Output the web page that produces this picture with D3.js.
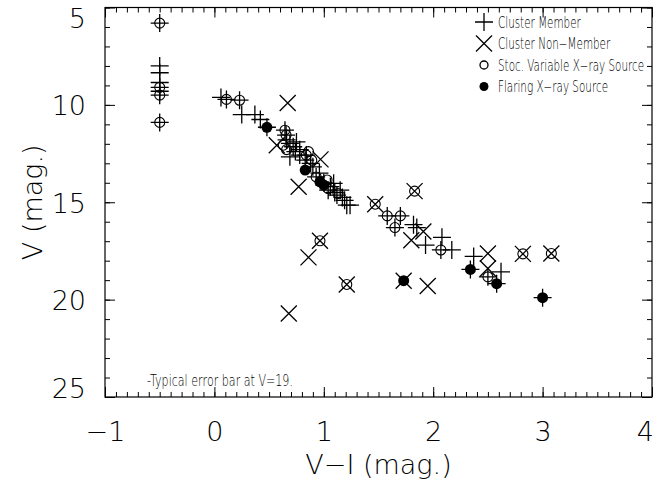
<!DOCTYPE html>
<html>
<head>
<meta charset="utf-8">
<script src="https://cdn.jsdelivr.net/npm/d3@7"></script>
<style>
body { margin: 0; background: #fff; }
svg { display: block; }
text { font-family: "DejaVu Sans", sans-serif; font-weight: 200; fill: #000; }
</style>
</head>
<body>
<div id="cmd"></div>
<script>
// V-I colour (x) and V magnitude (y) for each group of stars
var member = [
  [-0.5, 5.8], [-0.5, 8.0], [-0.5, 8.35], [-0.5, 8.85], [-0.5, 9.1], [-0.5, 9.3], [-0.5, 9.5], [-0.5, 10.9],
  [0.06, 9.62], [0.11, 9.72], [0.23, 9.76], [0.25, 10.5], [0.37, 10.5], [0.42, 10.75], [0.48, 11.15],
  [0.645, 11.3], [0.655, 11.55], [0.66, 11.8], [0.69, 11.98], [0.72, 12.15], [0.75, 11.9], [0.74, 12.4],
  [0.78, 12.58], [0.84, 12.58], [0.69, 12.67], [0.83, 12.84], [0.78, 12.3], [0.90, 13.18], [0.93, 13.7],
  [0.88, 13.0], [0.96, 13.5], [1.09, 14.03], [1.04, 14.38], [1.15, 14.38], [1.12, 14.63], [1.19, 14.9],
  [1.24, 15.15], [1.0, 14.0], [1.06, 14.2], [1.17, 14.75], [1.10, 14.5],
  [1.21, 15.15], [1.58, 15.7], [1.70, 15.7], [1.65, 16.3], [1.82, 16.15], [1.85, 16.3], [1.93, 17.2],
  [2.08, 16.8], [2.07, 17.45], [2.17, 17.45], [2.37, 17.78], [2.62, 18.57], [2.50, 18.83],
  [2.34, 18.45], [2.58, 19.18], [3.0, 19.9]
];
var nonMember = [
  [0.67, 9.9], [0.57, 12.07], [0.97, 12.8], [0.77, 14.2], [1.83, 14.43], [1.47, 15.1], [1.91, 16.5],
  [1.80, 16.95], [2.50, 17.63], [2.50, 18.4], [2.82, 17.65], [3.08, 17.63], [0.965, 16.98],
  [0.86, 17.83], [1.21, 19.22], [1.73, 19.03], [1.95, 19.3], [0.68, 20.71]
];
var stocVariable = [
  [-0.5, 5.8], [-0.5, 9.1], [-0.5, 9.5], [-0.5, 10.9], [0.11, 9.72], [0.23, 9.76],
  [0.645, 11.3], [0.655, 11.55], [0.63, 12.07], [0.66, 12.3], [0.84, 12.58], [0.86, 12.4], [0.89, 12.84],
  [0.93, 13.7], [1.03, 13.86], [1.04, 14.3], [1.13, 14.55],
  [1.83, 14.43], [1.47, 15.1], [1.58, 15.7], [1.70, 15.7], [1.65, 16.3], [2.07, 17.45], [2.50, 18.83],
  [2.82, 17.65], [3.08, 17.63], [0.965, 16.98], [1.21, 19.22]
];
var flaring = [
  [0.48, 11.15], [0.83, 13.35], [0.965, 13.95], [1.0, 14.12], [1.73, 19.03], [2.34, 18.45],
  [2.58, 19.18], [3.0, 19.9]
];
var xTicks = [-1, 0, 1, 2, 3, 4];
var yTicks = [5, 10, 15, 20, 25];
var legendLabels = ["Cluster Member", "Cluster Non\u2212Member", "Stoc. Variable X\u2212ray Source", "Flaring X\u2212ray Source"];

var W = 657, H = 483;
var margin = {top: 7.5, left: 105, right: 5, bottom: 86};
var w = W - margin.left - margin.right,
    h = H - margin.top - margin.bottom;

var svg = d3.select("#cmd").append("svg")
  .attr("width", W)
  .attr("height", H);

var g = svg.append("g").attr("transform", "translate(" + margin.left + "," + margin.top + ")");

var x = d3.scaleLinear().domain([-1, 4]).range([0, w]);
var y = d3.scaleLinear().domain([5, 25]).range([0, h]);

var xMinor = d3.range(-1, 4.001, 0.1).map(function(d) { return Math.round(d * 10) / 10; });
var yMinor = d3.range(5, 25.001, 1);

function styleAxis(sel) {
  sel.select(".domain").remove();
  sel.selectAll("line").attr("stroke", "#000").attr("stroke-width", 1);
}

// bottom
g.append("g").attr("transform", "translate(0," + h + ")")
  .call(d3.axisBottom(x).tickValues(xMinor).tickSize(-5).tickFormat(""))
  .call(styleAxis);
var xb = g.append("g").attr("transform", "translate(0," + h + ")")
  .call(d3.axisBottom(x).tickValues(xTicks).tickSize(-10).tickPadding(25)
    .tickFormat(function(d) { return d < 0 ? "\u2212" + Math.abs(d) : d; }))
  .call(styleAxis);
xb.selectAll("text").attr("font-size", 27).attr("font-family", "DejaVu Sans").attr("font-weight", 200)
  .attr("text-anchor", function(d) { return d === 4 ? "end" : "middle"; })
  .attr("dx", function(d) { return d === 4 ? "0.05em" : 0; });
// top
g.append("g")
  .call(d3.axisTop(x).tickValues(xMinor).tickSize(-5).tickFormat(""))
  .call(styleAxis);
g.append("g")
  .call(d3.axisTop(x).tickValues(xTicks).tickSize(-10).tickFormat(""))
  .call(styleAxis);
// left
g.append("g")
  .call(d3.axisLeft(y).tickValues(yMinor).tickSize(-5).tickFormat(""))
  .call(styleAxis);
var yl = g.append("g")
  .call(d3.axisLeft(y).tickValues(yTicks).tickSize(-10).tickPadding(19))
  .call(styleAxis);
yl.selectAll("text").attr("font-size", 27).attr("font-family", "DejaVu Sans").attr("font-weight", 200)
  .attr("dy", function(d) { return d === 5 ? "0.74em" : (d === 25 ? "0em" : "0.37em"); });
// right
g.append("g").attr("transform", "translate(" + w + ",0)")
  .call(d3.axisRight(y).tickValues(yMinor).tickSize(-5).tickFormat(""))
  .call(styleAxis);
g.append("g").attr("transform", "translate(" + w + ",0)")
  .call(d3.axisRight(y).tickValues(yTicks).tickSize(-10).tickFormat(""))
  .call(styleAxis);

g.append("rect")
  .attr("width", w).attr("height", h)
  .attr("fill", "none").attr("stroke", "#000").attr("stroke-width", 1.2);

// axis titles
svg.append("text")
  .attr("x", margin.left + x(1.5)).attr("y", 474)
  .attr("text-anchor", "middle")
  .attr("font-size", 27)
  .text("V\u2212I (mag.)");
svg.append("text")
  .attr("transform", "translate(42," + (margin.top + y(15)) + ") rotate(-90)")
  .attr("text-anchor", "middle")
  .attr("font-size", 27)
  .text("V (mag.)");

// markers
var plusPath = "M-9,0H9M0,-9V9";
var crossPath = "M-8,-8L8,8M-8,8L8,-8";

g.selectAll(".member").data(member).enter().append("path")
  .attr("class", "member")
  .attr("transform", function(d) { return "translate(" + x(d[0]) + "," + y(d[1]) + ")"; })
  .attr("d", plusPath)
  .attr("stroke", "#000").attr("stroke-width", 1.3).attr("fill", "none");

g.selectAll(".nonmember").data(nonMember).enter().append("path")
  .attr("class", "nonmember")
  .attr("transform", function(d) { return "translate(" + x(d[0]) + "," + y(d[1]) + ")"; })
  .attr("d", crossPath)
  .attr("stroke", "#000").attr("stroke-width", 1.3).attr("fill", "none");

g.selectAll(".stoc").data(stocVariable).enter().append("circle")
  .attr("class", "stoc")
  .attr("cx", function(d) { return x(d[0]); })
  .attr("cy", function(d) { return y(d[1]); })
  .attr("r", 5)
  .attr("stroke", "#000").attr("stroke-width", 1.1).attr("fill", "none");

g.selectAll(".flare").data(flaring).enter().append("circle")
  .attr("class", "flare")
  .attr("cx", function(d) { return x(d[0]); })
  .attr("cy", function(d) { return y(d[1]); })
  .attr("r", 5.5)
  .attr("fill", "#000");

// legend
var lg = svg.append("g").attr("transform", "translate(484,22)");
var rowH = 21.5;
lg.append("path").attr("d", plusPath).attr("stroke", "#000").attr("stroke-width", 1.3);
lg.append("path").attr("transform", "translate(0," + rowH + ")").attr("d", crossPath)
  .attr("stroke", "#000").attr("stroke-width", 1.3);
lg.append("circle").attr("cy", rowH * 2).attr("r", 4).attr("fill", "none")
  .attr("stroke", "#000").attr("stroke-width", 1.3);
lg.append("circle").attr("cy", rowH * 3).attr("r", 4.5).attr("fill", "#000");
// the original font is narrow, so the labels are squeezed horizontally
lg.selectAll(".lab").data(legendLabels).enter().append("text")
  .attr("class", "lab")
  .attr("transform", function(d, i) { return "translate(14," + (i * rowH) + ") scale(0.67,1)"; })
  .attr("dy", "0.37em")
  .attr("font-size", 15.5)
  .attr("font-weight", 400)
  .text(function(d) { return d; });

// note
svg.append("text")
  .attr("transform", "translate(147,386) scale(0.74,1)")
  .attr("font-size", 15)
  .attr("font-weight", 400)
  .text("-Typical error bar at V=19.");
</script>
</body>
</html>
